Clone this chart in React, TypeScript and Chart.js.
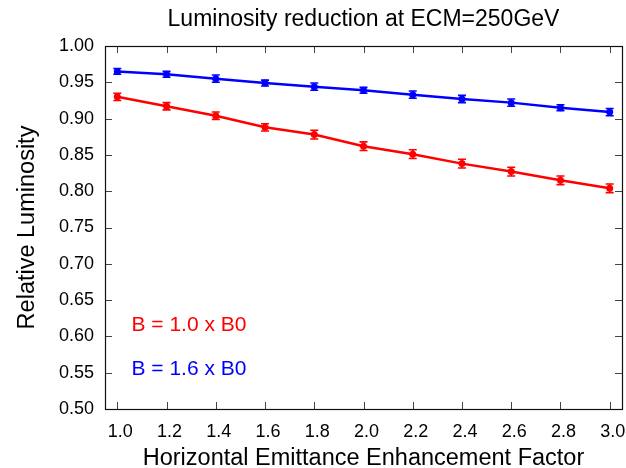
import { useEffect, useRef } from "react";
import { Chart, registerables } from "chart.js";

Chart.register(...registerables);

// Horizontal emittance enhancement factor (x axis)
const factors = [1.0, 1.2, 1.4, 1.6, 1.8, 2.0, 2.2, 2.4, 2.6, 2.8, 3.0];

// Relative luminosity, B = 1.0 x B0
const lumiB10 = [0.930, 0.917, 0.904, 0.888, 0.878, 0.862, 0.851, 0.838, 0.827, 0.815, 0.804];
const lumiB10Err = [0.005, 0.005, 0.005, 0.005, 0.006, 0.006, 0.006, 0.006, 0.006, 0.006, 0.006];

// Relative luminosity, B = 1.6 x B0
const lumiB16 = [0.965, 0.961, 0.955, 0.949, 0.944, 0.939, 0.933, 0.927, 0.922, 0.915, 0.909];
const lumiB16Err = [0.004, 0.004, 0.005, 0.004, 0.005, 0.004, 0.005, 0.005, 0.005, 0.004, 0.005];

const seriesLabels = ["B = 1.0 x B0", "B = 1.6 x B0"];
const seriesColors = ["#ff0000", "#0000ff"];

const xTickValues = [1.0, 1.2, 1.4, 1.6, 1.8, 2.0, 2.2, 2.4, 2.6, 2.8, 3.0];
const yTickValues = [0.5, 0.55, 0.6, 0.65, 0.7, 0.75, 0.8, 0.85, 0.9, 0.95, 1.0];

const FONT = "'Liberation Sans', Arial, Helvetica, sans-serif";

// Vertical error bars with caps
const errorBarPlugin = {
  id: "errorBars",
  afterDatasetsDraw(chart: any) {
    const { ctx } = chart;
    const yScale = chart.scales.y;
    chart.data.datasets.forEach((ds: any, di: number) => {
      const meta = chart.getDatasetMeta(di);
      const errs: number[] = ds.errors || [];
      ctx.save();
      ctx.strokeStyle = ds.borderColor;
      ctx.lineWidth = 1.6;
      meta.data.forEach((el: any, i: number) => {
        const v = ds.data[i].y;
        const e = errs[i] || 0;
        const yt = yScale.getPixelForValue(v + e);
        const yb = yScale.getPixelForValue(v - e);
        const x = el.x;
        ctx.beginPath();
        ctx.moveTo(x, yt);
        ctx.lineTo(x, yb);
        ctx.moveTo(x - 4, yt);
        ctx.lineTo(x + 4, yt);
        ctx.moveTo(x - 4, yb);
        ctx.lineTo(x + 4, yb);
        ctx.stroke();
      });
      ctx.restore();
    });
  },
};

// Plot frame with inward tick marks on all four sides
const framePlugin = {
  id: "frame",
  afterDatasetsDraw(chart: any) {
    const { ctx, chartArea } = chart;
    const { left, right, top, bottom } = chartArea;
    const xs = chart.scales.x;
    const ys = chart.scales.y;
    const tl = 7;
    ctx.save();
    ctx.strokeStyle = "#444";
    ctx.lineWidth = 1;
    ctx.beginPath();
    xs.ticks.forEach((t: any) => {
      const px = Math.round(xs.getPixelForValue(t.value)) + 0.5;
      ctx.moveTo(px, top);
      ctx.lineTo(px, top + tl);
      ctx.moveTo(px, bottom);
      ctx.lineTo(px, bottom - tl);
    });
    ys.ticks.forEach((t: any) => {
      const py = Math.round(ys.getPixelForValue(t.value)) + 0.5;
      ctx.moveTo(left, py);
      ctx.lineTo(left + tl, py);
      ctx.moveTo(right, py);
      ctx.lineTo(right - tl, py);
    });
    ctx.stroke();
    ctx.strokeStyle = "#111";
    ctx.lineWidth = 1.2;
    ctx.strokeRect(Math.round(left) + 0.5, Math.round(top) + 0.5, Math.round(right - left), Math.round(bottom - top));
    ctx.restore();
  },
};

// Series labels drawn inside the plot in the series colour
const seriesLabelPlugin = {
  id: "seriesLabels",
  afterDraw(chart: any) {
    const { ctx, chartArea } = chart;
    ctx.save();
    ctx.font = `21px ${FONT}`;
    ctx.textAlign = "left";
    ctx.textBaseline = "alphabetic";
    chart.data.datasets.forEach((ds: any, i: number) => {
      ctx.fillStyle = ds.borderColor;
      ctx.fillText(ds.label, chartArea.left + 26.5, chartArea.top + 285 + i * 43.5);
    });
    ctx.restore();
  },
};

export default function App() {
  const canvasRef = useRef<HTMLCanvasElement | null>(null);

  useEffect(() => {
    const canvas = canvasRef.current;
    if (!canvas) return;
    const series = [
      { values: lumiB10, errors: lumiB10Err },
      { values: lumiB16, errors: lumiB16Err },
    ];
    const chart = new Chart(canvas, {
      type: "line",
      data: {
        datasets: series.map((s, i) => ({
          label: seriesLabels[i],
          data: factors.map((f, j) => ({ x: f, y: s.values[j] })),
          errors: s.errors,
          borderColor: seriesColors[i],
          backgroundColor: seriesColors[i],
          borderWidth: 2.5,
          pointRadius: 3.5,
          pointBorderWidth: 0,
          pointBackgroundColor: seriesColors[i],
          tension: 0,
          fill: false,
        })) as any,
      },
      options: {
        responsive: false,
        animation: false,
        devicePixelRatio: 1,
        layout: { padding: { top: 0, left: 0, right: 4, bottom: 0 } },
        plugins: {
          legend: { display: false },
          tooltip: { enabled: false },
          title: {
            display: true,
            text: "Luminosity reduction at ECM=250GeV",
            fullSize: false,
            color: "#000",
            font: { family: FONT, size: 23, weight: "normal", lineHeight: 1.2 },
            padding: { top: 5.8, bottom: 12.6 },
          },
        },
        scales: {
          x: {
            type: "linear",
            position: "bottom",
            min: 0.95,
            max: 3.05,
            grid: { display: false, drawTicks: false },
            border: { display: false },
            afterBuildTicks: (scale: any) => {
              scale.ticks = xTickValues.map((v) => ({ value: v }));
            },
            afterFit: (scale: any) => {
              scale.height = 59;
              scale.paddingLeft = 0;
              scale.paddingRight = 0;
            },
            ticks: {
              color: "#000",
              padding: 12,
              labelOffset: 3,
              maxRotation: 0,
              autoSkip: false,
              font: { family: FONT, size: 18 },
              callback: (v: any) => Number(v).toFixed(1),
            },
            title: {
              display: true,
              text: "Horizontal Emittance Enhancement Factor",
              color: "#000",
              font: { family: FONT, size: 23.5, lineHeight: 0.8 },
              padding: { top: 0, bottom: 0 },
            },
          },
          y: {
            type: "linear",
            position: "left",
            min: 0.5,
            max: 1.0,
            grid: { display: false, drawTicks: false },
            border: { display: false },
            afterBuildTicks: (scale: any) => {
              scale.ticks = yTickValues.map((v) => ({ value: v }));
            },
            afterFit: (scale: any) => {
              scale.width = 105;
              scale.paddingTop = 0;
              scale.paddingBottom = 0;
            },
            ticks: {
              color: "#000",
              padding: 11,
              autoSkip: false,
              font: { family: FONT, size: 18 },
              callback: (v: any) => Number(v).toFixed(2),
            },
            title: {
              display: true,
              text: "Relative Luminosity",
              color: "#000",
              font: { family: FONT, size: 23.5, lineHeight: 1 },
              padding: { top: 16, bottom: 0 },
            },
          },
        },
      } as any,
      plugins: [errorBarPlugin, framePlugin, seriesLabelPlugin],
    });
    return () => chart.destroy();
  }, []);

  return (
    <div style={{ position: "absolute", left: 0, top: 0, width: 626, height: 468, background: "#fff" }}>
      <canvas ref={canvasRef} width={626} height={468} />
    </div>
  );
}
